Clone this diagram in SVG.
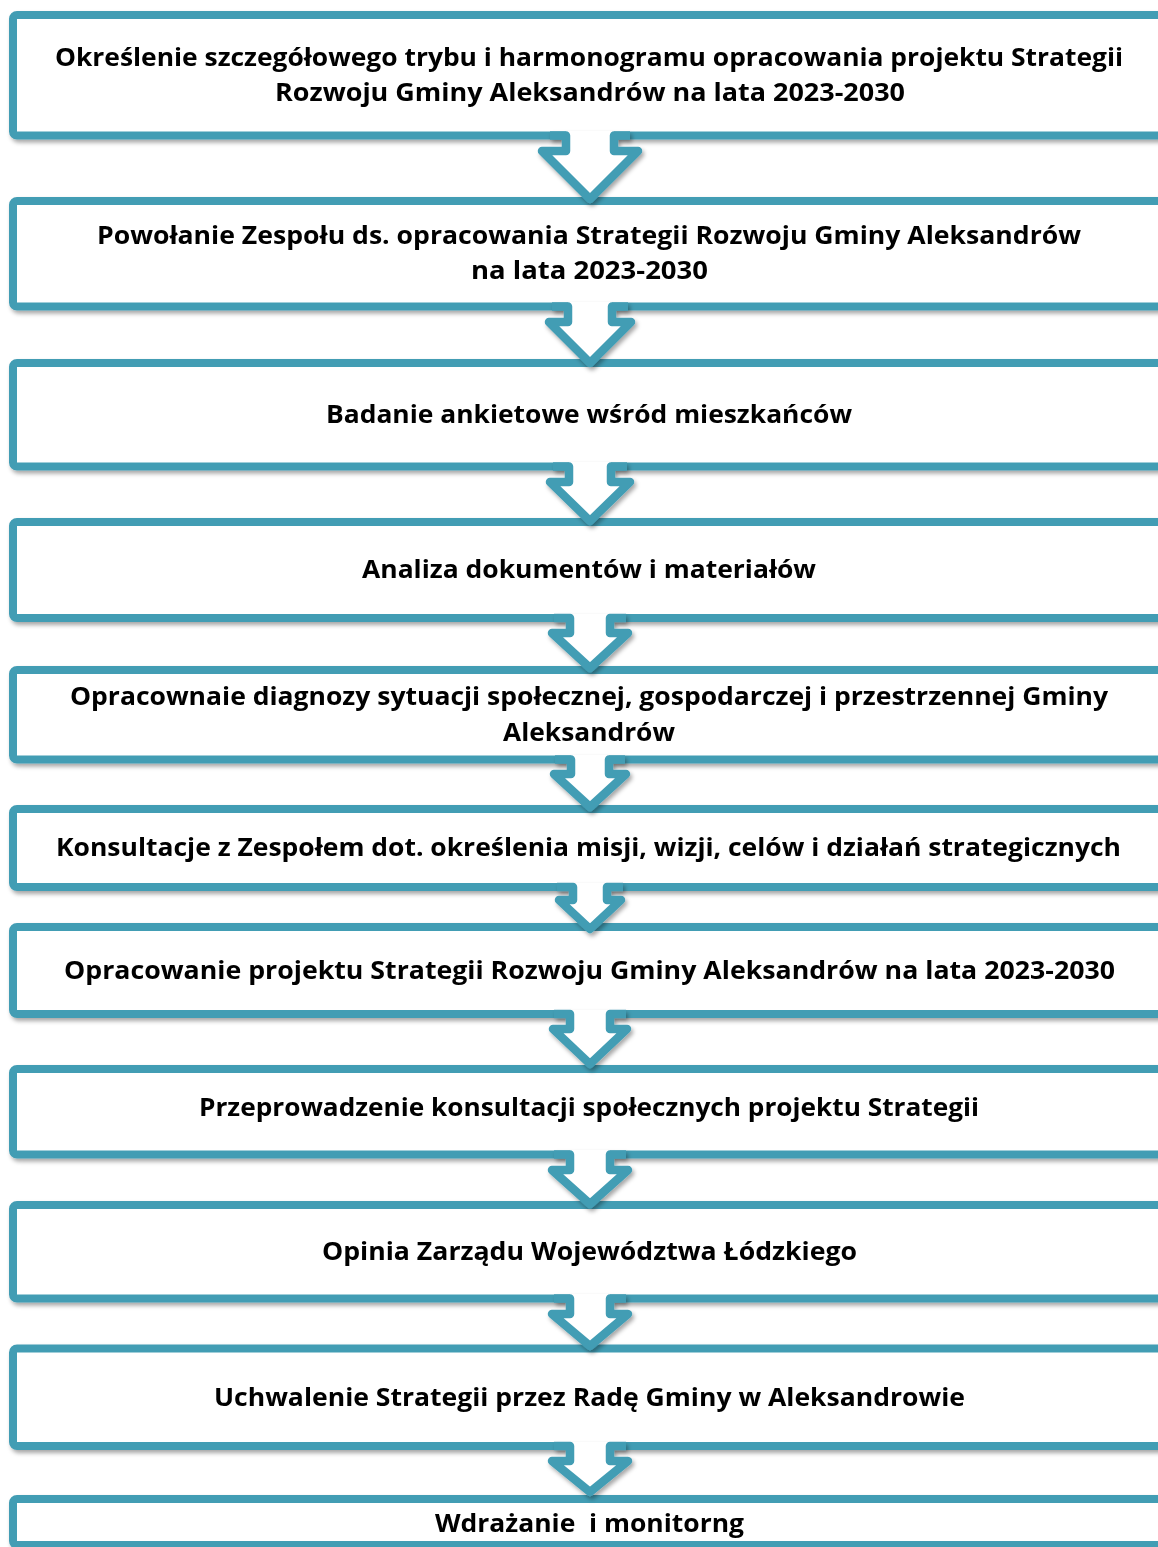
<svg xmlns="http://www.w3.org/2000/svg" width="1158" height="1547" viewBox="0 0 1158 1547">
<style>
.box{fill:#ffffff;stroke:#439DB4;stroke-width:8}
.arr{fill:#ffffff;stroke:none}
.arl{fill:none;stroke:#439DB4;stroke-width:8.5;stroke-linejoin:round;stroke-linecap:butt}
text{font-family:"Open Sans","Liberation Sans",sans-serif;font-weight:bold;font-size:25px;fill:#000;text-anchor:middle;white-space:pre}
</style>
<defs>
<filter id="sh" x="-20%" y="-5%" width="140%" height="110%">
<feDropShadow dx="2" dy="3" stdDeviation="2" flood-color="#000" flood-opacity="0.35"/>
</filter>
</defs>
<g id="nodes" filter="url(#sh)">
<g id="n1"><rect class="box" x="13" y="15" width="1160" height="120.5" rx="4"/>
<text x="589" y="66" textLength="1068" lengthAdjust="spacingAndGlyphs">Określenie szczegółowego trybu i harmonogramu opracowania projektu Strategii</text>
<text x="590" y="101" textLength="630" lengthAdjust="spacingAndGlyphs">Rozwoju Gminy Aleksandrów na lata 2023-2030</text></g>
<g id="n2"><rect class="box" x="13" y="201" width="1160" height="105.5" rx="4"/>
<text x="589" y="244" textLength="984" lengthAdjust="spacingAndGlyphs">Powołanie Zespołu ds. opracowania Strategii Rozwoju Gminy Aleksandrów</text>
<text x="589.5" y="279" textLength="237" lengthAdjust="spacingAndGlyphs">na lata 2023-2030</text></g>
<g id="n3"><rect class="box" x="13" y="363" width="1160" height="103.5" rx="4"/>
<text x="589" y="423" textLength="526" lengthAdjust="spacingAndGlyphs">Badanie ankietowe wśród mieszkańców</text></g>
<g id="n4"><rect class="box" x="13" y="522" width="1160" height="96" rx="4"/>
<text x="589" y="578" textLength="454" lengthAdjust="spacingAndGlyphs">Analiza dokumentów i materiałów</text></g>
<g id="n5"><rect class="box" x="13" y="670" width="1160" height="89.5" rx="4"/>
<text x="589" y="705" textLength="1038" lengthAdjust="spacingAndGlyphs">Opracownaie diagnozy sytuacji społecznej, gospodarczej i przestrzennej Gminy</text>
<text x="589" y="741" textLength="172" lengthAdjust="spacingAndGlyphs">Aleksandrów</text></g>
<g id="n6"><rect class="box" x="13" y="809" width="1160" height="78" rx="4"/>
<text x="588.5" y="856" textLength="1065" lengthAdjust="spacingAndGlyphs">Konsultacje z Zespołem dot. określenia misji, wizji, celów i działań strategicznych</text></g>
<g id="n7"><rect class="box" x="13" y="927" width="1160" height="87" rx="4"/>
<text x="589.5" y="979" textLength="1051" lengthAdjust="spacingAndGlyphs">Opracowanie projektu Strategii Rozwoju Gminy Aleksandrów na lata 2023-2030</text></g>
<g id="n8"><rect class="box" x="13" y="1069" width="1160" height="85.5" rx="4"/>
<text x="589" y="1116" textLength="780" lengthAdjust="spacingAndGlyphs">Przeprowadzenie konsultacji społecznych projektu Strategii</text></g>
<g id="n9"><rect class="box" x="13" y="1205" width="1160" height="93.5" rx="4"/>
<text x="589.5" y="1260" textLength="535" lengthAdjust="spacingAndGlyphs">Opinia Zarządu Województwa Łódzkiego</text></g>
<g id="n10"><rect class="box" x="13" y="1348.5" width="1160" height="97.5" rx="4"/>
<text x="589.5" y="1406" textLength="751" lengthAdjust="spacingAndGlyphs">Uchwalenie Strategii przez Radę Gminy w Aleksandrowie</text></g>
<g id="n11"><rect class="box" x="13" y="1499" width="1160" height="46" rx="4"/>
<text x="589.5" y="1532" textLength="309" lengthAdjust="spacingAndGlyphs">Wdrażanie  i monitorng</text></g>
</g>
<g id="connectors" filter="url(#sh)">
<g id="a1"><polygon class="arr" points="566,131 566,151 542,151 590,199 638,151 614,151 614,131"/><polyline class="arl" points="550,135.5 566,135.5 566,151 542,151 590,199 638,151 614,151 614,135.5 630,135.5"/></g>
<g id="a2"><polygon class="arr" points="568,302 568,322 549,322 590,363 631,322 612,322 612,302"/><polyline class="arl" points="552,306.5 568,306.5 568,322 549,322 590,363 631,322 612,322 612,306.5 628,306.5"/></g>
<g id="a3"><polygon class="arr" points="569,462 569,482 550,482 590,521 630,482 611,482 611,462"/><polyline class="arl" points="553,466.5 569,466.5 569,482 550,482 590,521 630,482 611,482 611,466.5 627,466.5"/></g>
<g id="a4"><polygon class="arr" points="570,614 570,633 552,633 590,668 628,633 610,633 610,614"/><polyline class="arl" points="554,618 570,618 570,633 552,633 590,668 628,633 610,633 610,618 626,618"/></g>
<g id="a5"><polygon class="arr" points="571,755 571,774 554,774 590,807 626,774 609,774 609,755"/><polyline class="arl" points="555,759.5 571,759.5 571,774 554,774 590,807 626,774 609,774 609,759.5 625,759.5"/></g>
<g id="a6"><polygon class="arr" points="573,883 573,900 559,900 590,929 621,900 607,900 607,883"/><polyline class="arl" points="557,887 573,887 573,900 559,900 590,929 621,900 607,900 607,887 623,887"/></g>
<g id="a7"><polygon class="arr" points="570,1010 570,1029 553,1029 590,1064 627,1029 610,1029 610,1010"/><polyline class="arl" points="554,1014 570,1014 570,1029 553,1029 590,1064 627,1029 610,1029 610,1014 626,1014"/></g>
<g id="a8"><polygon class="arr" points="570,1150 570,1170 552,1170 590,1204 628,1170 610,1170 610,1150"/><polyline class="arl" points="554,1154.5 570,1154.5 570,1170 552,1170 590,1204 628,1170 610,1170 610,1154.5 626,1154.5"/></g>
<g id="a9"><polygon class="arr" points="570,1294 570,1314 552,1314 590,1346 628,1314 610,1314 610,1294"/><polyline class="arl" points="554,1298.5 570,1298.5 570,1314 552,1314 590,1346 628,1314 610,1314 610,1298.5 626,1298.5"/></g>
<g id="a10"><polygon class="arr" points="570,1442 570,1461 552,1461 590,1492 628,1461 610,1461 610,1442"/><polyline class="arl" points="554,1446 570,1446 570,1461 552,1461 590,1492 628,1461 610,1461 610,1446 626,1446"/></g>
</g>
</svg>
